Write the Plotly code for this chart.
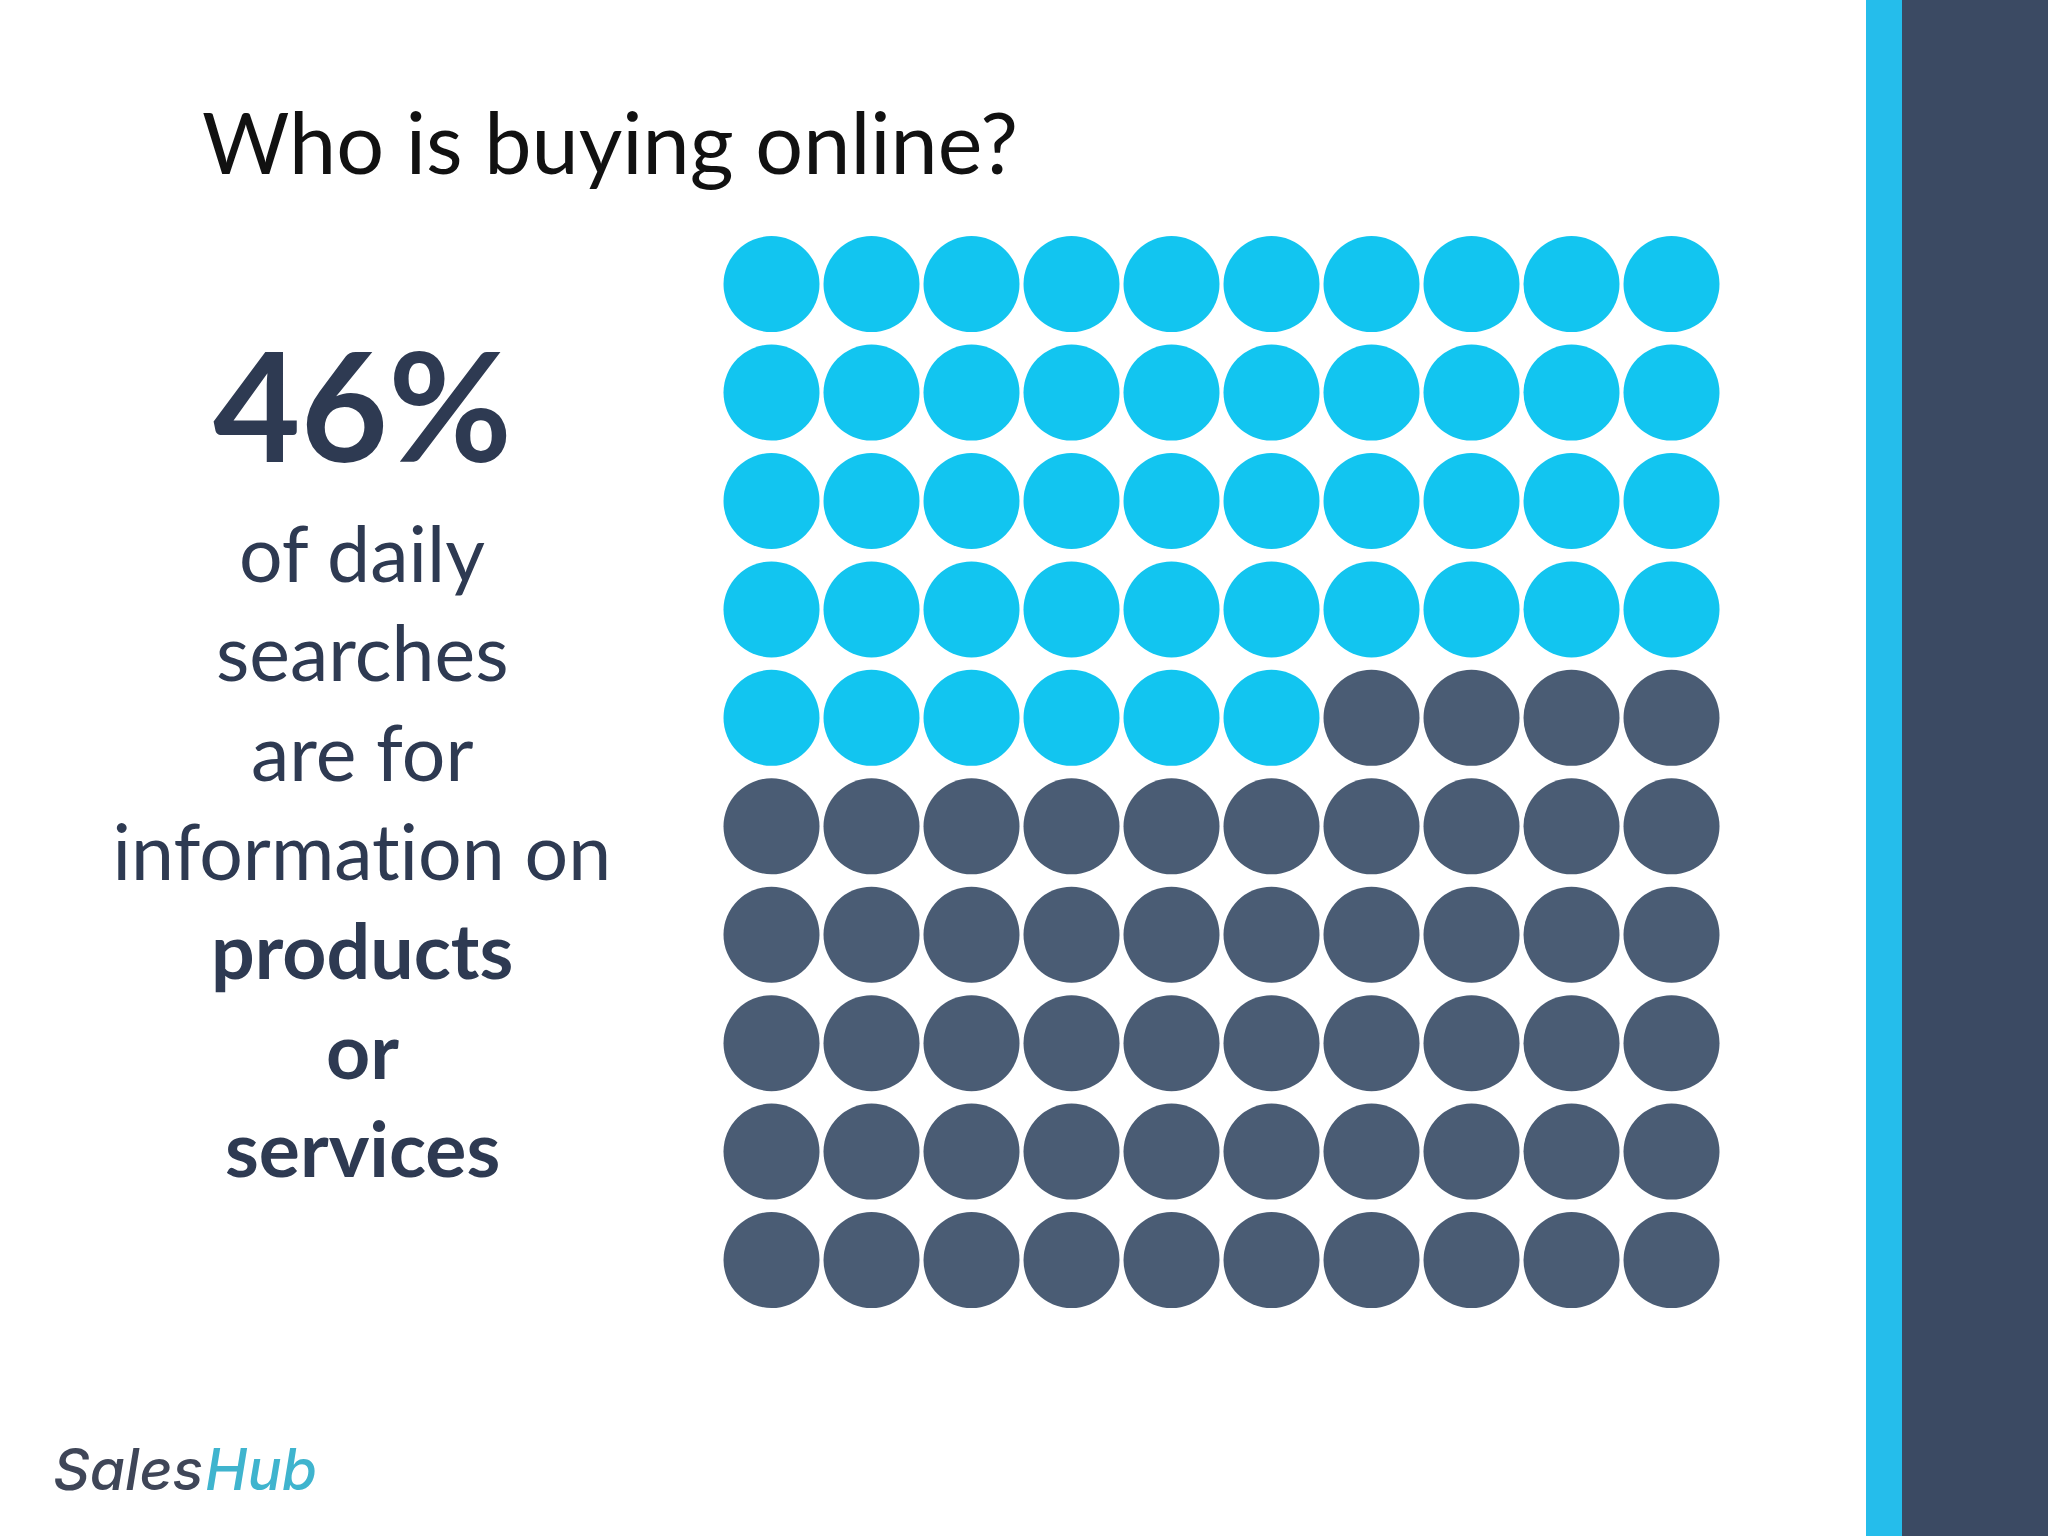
import plotly.graph_objects as go

W, H = 2048, 1536
title = "Who is buying online?"
share_label = "46%"
filled_count = 46
grid_rows = 10
grid_cols = 10
body_lines = ["of daily", "searches", "are for", "information on", "products", "or", "services"]
body_bold = [False, False, False, False, True, True, True]
body_y_px = [552, 651, 751, 850, 949, 1049, 1147]

CYAN = "#12C5F0"
SLATE = "#4A5C74"
TEXT = "#2E3A52"

xs, ys, cols = [], [], []
for r in range(grid_rows):
    for c in range(grid_cols):
        xs.append(c)
        ys.append(r)
        cols.append(CYAN if r * grid_cols + c < filled_count else SLATE)

fig = go.Figure(go.Scatter(
    x=xs, y=ys, mode="markers",
    marker=dict(size=96, color=cols, line=dict(width=0)),
    hoverinfo="skip", showlegend=False,
))

def px_x(p): return p / W
def px_y(p): return 1 - p / H

anns = [
    dict(text=title, x=px_x(200), y=px_y(142), xanchor="left", yanchor="middle",
         font=dict(family="Lato", size=84.5, color="#111111")),
    dict(text=f"<b>{share_label}</b>", x=px_x(362), y=px_y(403), xanchor="center", yanchor="middle",
         font=dict(family="Lato", size=151, color=TEXT)),
    dict(text="Sales", x=px_x(51), y=px_y(1469), xanchor="left", yanchor="middle",
         font=dict(family="Inter", size=57, color="#3F4658", style="italic", weight=500)),
    dict(text="Hub", x=px_x(203), y=px_y(1469), xanchor="left", yanchor="middle",
         font=dict(family="Inter", size=57, color="#3FB4CE", style="italic", weight=500)),
]
for line, bold, yp in zip(body_lines, body_bold, body_y_px):
    anns.append(dict(text=f"<b>{line}</b>" if bold else line, x=px_x(362), y=px_y(yp),
                     xanchor="center", yanchor="middle",
                     font=dict(family="Lato", size=77, color=TEXT)))
for a in anns:
    a.update(xref="paper", yref="paper", showarrow=False)

shapes = [
    dict(type="rect", xref="paper", yref="paper", x0=1866/W, x1=1902/W, y0=0, y1=1,
         fillcolor="#25BDEB", line_width=0, layer="below"),
    dict(type="rect", xref="paper", yref="paper", x0=1902/W, x1=1, y0=0, y1=1,
         fillcolor="#3B4A63", line_width=0, layer="below"),
]

fig.update_layout(
    width=W, height=H, margin=dict(l=0, r=0, t=0, b=0),
    paper_bgcolor="white", plot_bgcolor="white",
    xaxis=dict(range=[-7.715, 12.765], visible=False),
    yaxis=dict(range=[11.545, -2.62], visible=False),
    annotations=anns, shapes=shapes,
)
post = """
document.body.style.margin='0';
var s=document.createElement('style');
s.textContent='svg text{font-variant-ligatures:none !important;font-feature-settings:"liga" 0,"clig" 0,"dlig" 0 !important;letter-spacing:0.01px;}';
document.head.appendChild(s);
"""
fig.write_html("out.html", config={"displayModeBar": False}, post_script=post)
